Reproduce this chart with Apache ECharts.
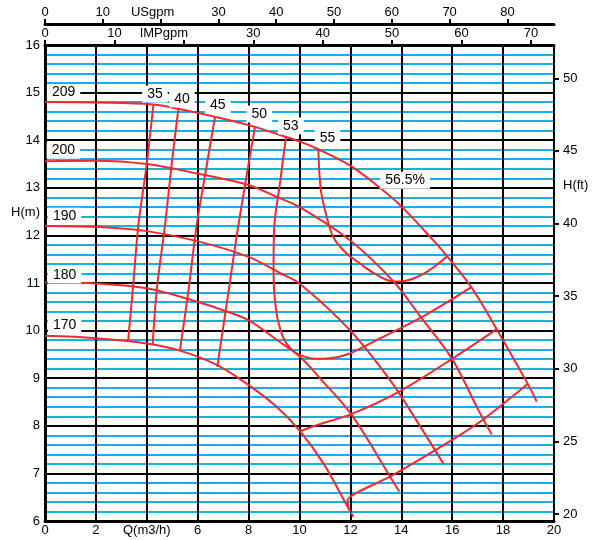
<!DOCTYPE html>
<html><head><meta charset="utf-8">
<script src="https://cdn.jsdelivr.net/npm/echarts@6/dist/echarts.min.js"></script>
<style>html,body{margin:0;padding:0;background:#fff}#c{width:600px;height:540px}</style>
</head><body><div id="c"></div>
<script>
// ---- data: [Q (m3/h), H (m)] ----
const curve209 = [[0,14.80],[2.00,14.79],[4.26,14.75],[5.24,14.66],[6.68,14.49],[8.25,14.28],[9.23,14.11],[10.02,13.97],[10.74,13.81],[11.98,13.47],[13.16,13.00],[14.02,12.60],[15.25,11.90],[15.85,11.53],[16.74,10.92],[17.76,10.02],[18.99,8.86],[19.32,8.51]];
const curve200 = [[0,13.56],[2.00,13.57],[4.00,13.50],[5.98,13.30],[7.99,13.06],[9.10,12.81],[10.02,12.59],[11.98,11.90],[13.70,11.03],[14.73,10.31],[15.98,9.42],[17.03,8.33],[17.55,7.82]];
const curve190 = [[0,12.20],[2.00,12.18],[4.00,12.09],[5.98,11.88],[7.99,11.55],[9.23,11.21],[10.02,10.98],[11.98,10.01],[13.56,8.96],[14.34,8.33],[15.65,7.21]];
const curve180 = [[0,11.01],[2.00,10.99],[4.00,10.89],[5.96,10.61],[7.14,10.40],[7.99,10.22],[9.23,9.76],[10.02,9.45],[10.87,8.96],[12.05,8.23],[13.56,6.93],[13.92,6.62]];
const curve170 = [[0,9.89],[2.00,9.84],[4.00,9.73],[5.30,9.58],[6.75,9.28],[7.99,8.86],[9.10,8.40],[10.02,7.89],[10.94,7.21],[11.85,6.34],[12.11,6.09]];

const eff35  = [[4.26,14.75],[4.00,13.51],[3.67,12.22],[3.47,10.99],[3.27,9.80]];
const eff40  = [[5.24,14.66],[4.98,13.51],[4.73,12.28],[4.39,10.85],[4.23,9.70]];
const eff45L = [[6.68,14.49],[6.30,13.30],[5.96,12.22],[5.64,10.85],[5.30,9.58]];
const eff45R = [[11.92,6.27],[11.89,6.44],[13.56,6.93],[15.98,7.70],[17.29,8.16],[18.99,8.89]];
const eff50L = [[8.25,14.28],[7.60,12.22],[7.22,10.85],[6.77,9.24]];
const eff50R = [[10.06,7.89],[10.61,8.00],[12.05,8.25],[13.92,8.72],[15.98,9.40],[17.75,10.03]];
const eff53  = [[9.47,14.07],[9.23,13.09],[9.00,12.11],[8.98,11.27],[9.08,10.43],[9.35,9.87],[9.71,9.59],[10.02,9.49],[10.61,9.41],[11.20,9.42],[11.98,9.52],[13.03,9.80],[14.73,10.26],[16.77,10.92]];
const eff55  = [[10.74,13.81],[10.84,12.95],[11.08,12.37],[11.32,11.97],[11.79,11.65],[12.30,11.44],[12.97,11.19],[13.69,11.03],[14.34,11.07],[15.05,11.25],[15.78,11.55]];

// curve labels: [text, Q, H]
const diamLabels = [['209',0.73,15.00],['200',0.72,13.79],['190',0.77,12.40],['180',0.77,11.17],['170',0.77,10.12]];
const effLabels  = [['35',4.32,14.97],['40',5.38,14.87],['45',6.79,14.74],['50',8.42,14.55],['53',9.66,14.30],['55',11.10,14.04],['56.5%',14.15,13.16]];

// axes
const Q_MIN = 0, Q_MAX = 20, Q_STEP = 2;
const H_MIN = 6, H_MAX = 16, H_STEP = 1;
const FT_MIN = 20, FT_MAX = 50, FT_STEP = 5;
const US_PER_M3H = 4.402868, IMP_PER_M3H = 3.666154;
const US_MAX = Q_MAX * US_PER_M3H, IMP_MAX = Q_MAX * IMP_PER_M3H;

const FONT = '"Liberation Sans", Arial, sans-serif';
const RED = '#ee2a2e';
const BLUE = '#17afe6';

function curve(data, sm) {
  return {type:'line', xAxisIndex:0, yAxisIndex:0, data:data, smooth:sm, symbol:'none',
    silent:true, z:3, lineStyle:{color:RED, width:2}};
}
function labels(arr) {
  return {type:'scatter', xAxisIndex:0, yAxisIndex:0, z:5, silent:true, symbolSize:1,
    itemStyle:{color:'rgba(0,0,0,0)', opacity:1},
    data: arr.map(a => ({name:a[0], value:[a[1], a[2]]})),
    label:{show:true, position:'inside', formatter:p=>p.name, color:'#000', opacity:1, fontSize:14,
      fontFamily:FONT, backgroundColor:'#ffffff', padding:[2,5,1,5]}};
}
const axText = {color:'#000', fontSize:13, fontFamily:FONT};

const chart = echarts.init(document.getElementById('c'));
chart.setOption({
  animation:false,
  backgroundColor:'#fff',
  grid:[{left:45, right:46, top:45, bottom:19},{left:45, right:46, top:78.3, bottom:26}],
  xAxis:[
    {type:'value', gridIndex:0, position:'bottom', min:Q_MIN, max:Q_MAX, interval:Q_STEP, z:1,
      axisLine:{show:true, onZero:false, lineStyle:{color:'#000', width:3}}, axisTick:{show:false},
      axisLabel:Object.assign({margin:3, formatter:v=> v===4 ? 'Q(m3/h)' : String(v)}, axText),
      splitLine:{show:true, lineStyle:{color:'#000', width:2}}},
    {type:'value', gridIndex:0, position:'top', min:0, max:IMP_MAX, interval:10, z:1,
      axisLine:{show:true, onZero:false, lineStyle:{color:'#000', width:3}},
      axisTick:{show:true, length:5, lineStyle:{color:'#000', width:2}},
      axisLabel:Object.assign({margin:5, showMaxLabel:false,
        formatter:v=> (v%10!==0) ? '' : (v===20 ? '{n|IMPgpm}' : String(v)),
        rich:{n:{padding:[0,40,0,0], color:'#000', fontSize:13, fontFamily:FONT}}}, axText),
      splitLine:{show:false}},
    {type:'value', gridIndex:0, position:'top', offset:21, min:0, max:US_MAX, interval:10, z:1,
      axisLine:{show:true, onZero:false, lineStyle:{color:'#000', width:3}},
      axisTick:{show:true, length:5, lineStyle:{color:'#000', width:2}},
      axisLabel:Object.assign({margin:5, showMaxLabel:false,
        formatter:v=> (v%10!==0) ? '' : (v===20 ? '{n|USgpm}' : String(v)),
        rich:{n:{padding:[0,16,0,0], color:'#000', fontSize:13, fontFamily:FONT}}}, axText),
      splitLine:{show:false}},
    {type:'value', gridIndex:1, show:false, min:Q_MIN, max:Q_MAX, axisLine:{onZero:false}}
  ],
  yAxis:[
    {type:'value', gridIndex:0, min:H_MIN, max:H_MAX, interval:H_STEP, z:0,
      axisLine:{show:true, onZero:false, lineStyle:{color:'#000', width:3}}, axisTick:{show:false},
      axisLabel:Object.assign({margin:5}, axText),
      splitLine:{show:true, lineStyle:{color:'#000', width:2}},
      minorTick:{show:false, splitNumber:5},
      minorSplitLine:{show:true, lineStyle:{color:BLUE, width:2}}},
    {type:'value', gridIndex:1, position:'right', min:FT_MIN, max:FT_MAX, interval:FT_STEP,
      axisLine:{show:false, onZero:false},
      axisTick:{show:true, length:5, lineStyle:{color:'#000', width:2}},
      axisLabel:Object.assign({margin:9}, axText),
      splitLine:{show:false}}
  ],
  graphic:[
    {type:'text', x:40, y:212, style:{text:'H(m)', align:'right', verticalAlign:'middle', fill:'#000', fontSize:13, fontFamily:FONT}},
    {type:'text', x:563, y:185, style:{text:'H(ft)', align:'left', verticalAlign:'middle', fill:'#000', fontSize:13, fontFamily:FONT}}
  ],
  series:[
    curve(curve209,0.35), curve(curve200,0.35), curve(curve190,0.35), curve(curve180,0.35), curve(curve170,0.35),
    curve(eff35,0.3), curve(eff40,0.3), curve(eff45L,0.3), curve(eff45R,0.2), curve(eff50L,0.3), curve(eff50R,0.3),
    curve(eff53,0.35), curve(eff55,0.35),
    labels(diamLabels), labels(effLabels)
  ]
});
</script></body></html>
